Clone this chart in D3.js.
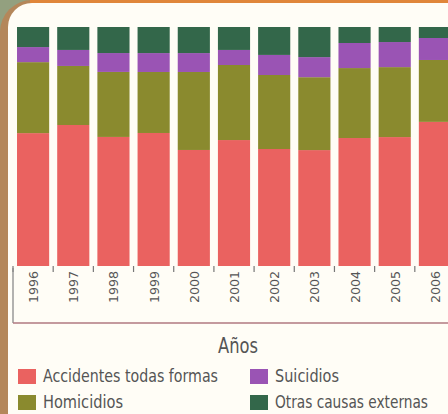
<!DOCTYPE html>
<html><head><meta charset="utf-8">
<script src="https://cdn.jsdelivr.net/npm/d3@7"></script>
<style>html,body{margin:0;padding:0;background:#fffdf6;overflow:hidden}</style>
</head><body>
<svg id="c" width="448" height="414"></svg>
<script>
const years = ["1996","1997","1998","1999","2000","2001","2002","2003","2004","2005","2006"];
const accidentes = [55.6, 59.0, 54.0, 55.6, 48.5, 52.7, 49.0, 48.5, 53.6, 54.0, 60.3];
const homicidios = [29.7, 24.7, 27.2, 25.5, 32.6, 31.4, 31.0, 30.5, 29.3, 29.3, 25.9];
const suicidios  = [6.3, 6.7, 7.9, 7.9, 7.9, 6.3, 8.4, 8.4, 10.5, 10.5, 9.2];
const otras      = [8.4, 9.6, 10.9, 10.9, 10.9, 9.6, 11.7, 12.6, 6.7, 6.3, 4.6];
const seriesNames = ["Accidentes todas formas","Homicidios","Suicidios","Otras causas externas"];
const axisTitle = "Años";

const colors = ["#ea6260","#8a8a2e","#9a54b4","#33674a"];
const svg = d3.select("#c");

// frame
svg.append("rect").attr("x",0).attr("y",0).attr("width",448).attr("height",414).attr("fill","#93a07f");
svg.append("rect").attr("x",0).attr("y",0).attr("width",520).attr("height",480).attr("rx",32).attr("fill","#b4875a");
svg.append("rect").attr("x",30).attr("y",0).attr("width",420).attr("height",3).attr("fill","#e0863a");
svg.append("rect").attr("x",8).attr("y",3).attr("width",520).attr("height",480).attr("rx",24).attr("fill","#fffdf6");

const data = years.map((y,i)=>({year:y, a:accidentes[i], h:homicidios[i], s:suicidios[i], o:otras[i]}));
const keys = ["a","h","s","o"];
const stack = d3.stack().keys(keys).offset(d3.stackOffsetExpand)(data);

const x = d3.scaleBand().domain(years).range([13,455]).paddingInner(0.2).paddingOuter(0.1);
const y = d3.scaleLinear().domain([0,1]).range([266,27]);

svg.append("g").selectAll("g").data(stack).join("g")
  .attr("fill",(d,i)=>colors[i])
  .selectAll("rect").data(d=>d).join("rect")
  .attr("x",d=>x(d.data.year)).attr("width",x.bandwidth())
  .attr("y",d=>y(d[1])).attr("height",d=>y(d[0])-y(d[1]));

// ticks between bands
const step = x.step();
const tickPos = years.map(yr => x(yr) - step*x.paddingInner()/2);
svg.append("g").selectAll("line").data(tickPos).join("line")
  .attr("x1",d=>d).attr("x2",d=>d).attr("y1",266).attr("y2",272)
  .attr("stroke","#777").attr("stroke-width",1.2);

// bracket lines
svg.append("line").attr("x1",13).attr("x2",13).attr("y1",268).attr("y2",323).attr("stroke","#8a8a8a").attr("stroke-width",1.3);
svg.append("line").attr("x1",13).attr("x2",448).attr("y1",323).attr("y2",323).attr("stroke","#b07880").attr("stroke-width",1.6);

// tick labels rotated
svg.append("g").selectAll("text").data(years).join("text")
  .attr("transform",d=>`translate(${x(d)+x.bandwidth()/2+5},${303}) rotate(-90)`)
  .attr("font-family","DejaVu Sans Condensed, DejaVu Sans, sans-serif")
  .attr("font-size",13).attr("fill","#555")
  .attr("textLength",32).attr("lengthAdjust","spacingAndGlyphs")
  .text(d=>d);

// axis title
svg.append("text").attr("x",218).attr("y",353)
  .attr("font-family","DejaVu Sans Condensed, DejaVu Sans, sans-serif")
  .attr("font-size",21).attr("fill","#555")
  .attr("textLength",40).attr("lengthAdjust","spacingAndGlyphs")
  .text(axisTitle);

// legend
const legPos = [{x:18,y:369,w:175},{x:18,y:395,w:80},{x:250,y:369,w:64},{x:250,y:395,w:153}];
const leg = svg.append("g").selectAll("g").data(seriesNames).join("g")
  .attr("transform",(d,i)=>`translate(${legPos[i].x},${legPos[i].y})`);
leg.append("rect").attr("width",18).attr("height",15).attr("fill",(d,i)=>colors[i]);
leg.append("text").attr("x",25).attr("y",13)
  .attr("font-family","DejaVu Sans Condensed, DejaVu Sans, sans-serif")
  .attr("font-size",17).attr("fill","#555")
  .attr("textLength",(d,i)=>legPos[i].w).attr("lengthAdjust","spacingAndGlyphs")
  .text(d=>d);
</script>
</body></html>
